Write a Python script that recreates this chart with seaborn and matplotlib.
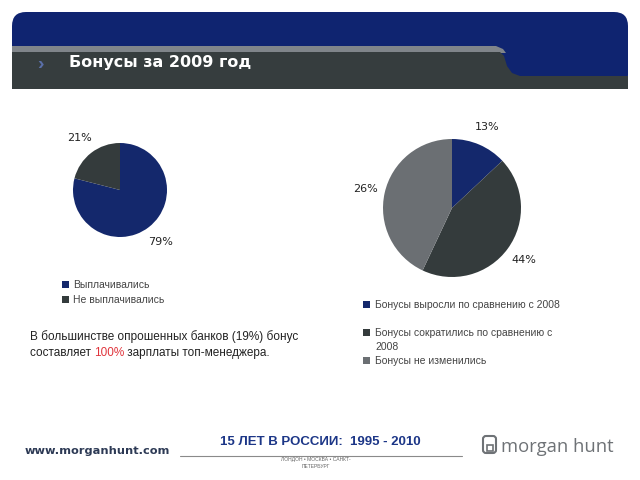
import matplotlib
matplotlib.use("Agg")
import matplotlib.pyplot as plt
import seaborn as sns
from matplotlib.patches import FancyBboxPatch, Polygon, Rectangle

sns.set_theme(style="white")
plt.rcParams['font.family'] = ['Liberation Sans', 'DejaVu Sans']

# ---- data ----
title = "Бонусы за 2009 год"
left_categories = ["Выплачивались", "Не выплачивались"]
left_values = [79, 21]
left_labels = ["79%", "21%"]

right_categories = ["Бонусы выросли по сравнению с 2008",
                    "Бонусы сократились по сравнению с\n2008",
                    "Бонусы не изменились"]
right_values = [13, 44, 43]          # shares as drawn in the picture
right_labels = ["13%", "44%", "26%"]  # labels as printed

note_line1 = "В большинстве опрошенных банков (19%) бонус"
note_line2_a = "составляет "
note_line2_b = "100%"
note_line2_c = " зарплаты топ-менеджера."

footer_site = "www.morganhunt.com"
footer_years = "15 ЛЕТ В РОССИИ:  1995 - 2010"
footer_cities = "ЛОНДОН • МОСКВА • САНКТ-\nПЕТЕРБУРГ"
footer_logo = "morgan hunt"

navy = "#14286c"
dark = "#343b3c"
gray = "#6b6f73"
palette = sns.color_palette([navy, dark, gray])

W, H = 640, 480
fig = plt.figure(figsize=(6.4, 4.8), dpi=100)
bg = fig.add_axes([0, 0, 1, 1])
bg.set_xlim(0, W)
bg.set_ylim(H, 0)
bg.axis("off")

# ---- header banner ----
bg.add_patch(FancyBboxPatch((12, 12), 616, 77, boxstyle="round,pad=0,rounding_size=14",
                            fc="#0f2470", ec="none", zorder=1))
stripe = Polygon([(12, 46), (496, 46), (503, 49), (506, 53), (12, 53)],
                 closed=True, fc="#80858a", ec="none", zorder=2)
bg.add_patch(stripe)
band = Polygon([(12, 52), (500, 52), (504, 56), (507, 66), (512, 73), (520, 76),
                (628, 76), (628, 89), (12, 89)], closed=True, fc="#363d3e", ec="none", zorder=3)
bg.add_patch(band)
bg.text(40, 64, "›", color="#5a6fa8", fontsize=14, fontweight="bold",
        ha="center", va="center", zorder=4)
bg.text(69, 63, title, color="white", fontsize=11.5, fontweight="bold",
        family=["DejaVu Sans"], ha="left", va="center", zorder=4)


def add_pie(cx, cy, r, values, labels, colors, ldist):
    ax = fig.add_axes([(cx - r) / W, 1 - (cy + r) / H, 2 * r / W, 2 * r / H])
    wedges, texts = ax.pie(values, colors=colors, startangle=90, counterclock=False,
                           labels=labels, labeldistance=ldist,
                           wedgeprops=dict(linewidth=0),
                           textprops=dict(fontsize=8, color="#222222",
                                          family=["DejaVu Sans"]))
    for t in texts:
        t.set_ha("center")
        t.set_va("center")
    ax.set_xlim(-1, 1)
    ax.set_ylim(-1, 1)
    ax.set_aspect("equal")
    ax.axis("off")
    return wedges


add_pie(120, 190, 47, left_values, left_labels, palette[:2], 1.4)
add_pie(452, 208, 69, right_values, right_labels, palette[:3], 1.28)

# ---- legends ----
left_rows = [285, 300]
for cat, col, y in zip(left_categories, palette[:2], left_rows):
    bg.add_patch(Rectangle((62, y - 4), 7, 7, fc=col, ec="none"))
    bg.text(73, y, cat, fontsize=7.5, color="#444444", ha="left", va="center")

right_rows = [305, 333, 361]
for cat, col, y in zip(right_categories, palette[:3], right_rows):
    bg.add_patch(Rectangle((363, y - 4), 7, 7, fc=col, ec="none"))
    bg.text(375, y - 5, cat, fontsize=7.5, color="#444444", ha="left", va="top",
            linespacing=1.45)

# ---- note ----
bg.text(30, 337, note_line1, fontsize=8.5, color="#222222", ha="left", va="center")
t1 = bg.text(30, 353, note_line2_a, fontsize=8.5, color="#222222", ha="left", va="center")
fig.canvas.draw()
r = fig.canvas.get_renderer()
bb = t1.get_window_extent(r)
x2 = bb.x1
t2 = bg.annotate(note_line2_b, xy=(x2 / W, 0), xycoords="figure fraction",
                 xytext=(x2, H - 353), textcoords="figure pixels",
                 fontsize=8.5, color="#e0343c", ha="left", va="center")
bb2 = t2.get_window_extent(r)
bg.annotate(note_line2_c, xy=(0, 0), xycoords="figure fraction",
            xytext=(bb2.x1, H - 353), textcoords="figure pixels",
            fontsize=8.5, color="#222222", ha="left", va="center")

# ---- footer ----
bg.text(25, 451, footer_site, fontsize=8.2, fontweight="bold", color="#2d3a55",
        ha="left", va="center", family=["DejaVu Sans"])
bg.text(320, 442, footer_years, fontsize=9.5, fontweight="bold", color="#1c3687",
        ha="center", va="center")
bg.plot([180, 462], [456, 456], color="#8a8a8a", lw=0.8)
bg.text(316, 463, footer_cities, fontsize=3.6, color="#666666", ha="center",
        va="center", linespacing=1.5)
bg.add_patch(FancyBboxPatch((483, 436), 13, 17, boxstyle="round,pad=0,rounding_size=3",
                            fc="none", ec="#6e7276", lw=1.5))
bg.add_patch(Rectangle((487, 445), 6, 6, fc="none", ec="#6e7276", lw=1.2))
bg.text(501, 447, footer_logo, fontsize=13.2, color="#6e7276", ha="left", va="center",
        family=["Open Sans", "DejaVu Sans"])

fig.savefig("out.png", dpi=100)
